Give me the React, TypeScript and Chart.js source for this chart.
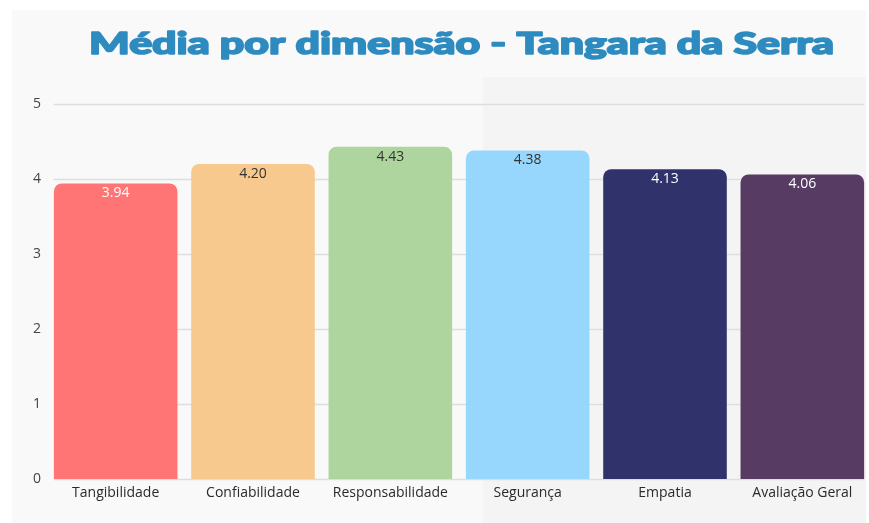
import React, { useEffect, useRef } from "react";
import { Chart, registerables } from "chart.js";

Chart.register(...registerables);

const TITLE = "Média por dimensão - Tangara da Serra";
const categories = ["Tangibilidade", "Confiabilidade", "Responsabilidade", "Segurança", "Empatia", "Avaliação Geral"];
const values = [3.94, 4.2, 4.43, 4.38, 4.13, 4.06];
const barColors = ["#ff7474", "#f7c98e", "#afd59e", "#97d7fd", "#30336b", "#573b63"];
const labelColors = ["#ffffff", "#333333", "#333333", "#333333", "#ffffff", "#ffffff"];
const yMin = 0;
const yMax = 5;
const yStep = 1;

const bgPlugin = {
  id: "customDecor",
  beforeDatasetsDraw(chart: any) {
    const ctx = chart.ctx;
    const meta = chart.getDatasetMeta(0);
    const first = meta.data[0];
    const last = meta.data[meta.data.length - 1];
    const x0 = first.x - first.width / 2;
    const x1 = last.x + last.width / 2;
    const yScale = chart.scales.y;
    ctx.save();
    ctx.strokeStyle = "#dedede";
    ctx.lineWidth = 1.5;
    yScale.ticks.forEach((t: any) => {
      const y = Math.round(yScale.getPixelForValue(t.value)) + 0.5;
      ctx.beginPath();
      ctx.moveTo(x0, y);
      ctx.lineTo(x1, y);
      ctx.stroke();
    });
    ctx.restore();
  },
  afterDatasetsDraw(chart: any) {
    const ctx = chart.ctx;
    const meta = chart.getDatasetMeta(0);
    ctx.save();
    ctx.font = "14px 'Open Sans'";
    ctx.textAlign = "center";
    ctx.textBaseline = "middle";
    meta.data.forEach((bar: any, i: number) => {
      ctx.fillStyle = labelColors[i];
      ctx.fillText(values[i].toFixed(2), bar.x, bar.y + 10);
    });
    ctx.restore();
  },
  afterDraw(chart: any) {
    const ctx = chart.ctx;
    ctx.save();
    ctx.font = "900 30px Lato";
    ctx.fillStyle = "#2e8bc0";
    ctx.strokeStyle = "#2e8bc0";
    ctx.lineWidth = 1.6;
    ctx.lineJoin = "round";
    ctx.textBaseline = "alphabetic";
    ctx.textAlign = "left";
    const w = ctx.measureText(TITLE).width;
    const target = 745;
    const sx = target / w;
    ctx.translate(89, 54);
    ctx.scale(sx, 1);
    ctx.fillText(TITLE, 0, 0);
    ctx.strokeText(TITLE, 0, 0);
    ctx.restore();
  },
};

export default function App() {
  const ref = useRef<HTMLCanvasElement | null>(null);
  useEffect(() => {
    if (!ref.current) return;
    const chart = new Chart(ref.current, {
      type: "bar",
      data: {
        labels: categories,
        datasets: [
          {
            data: values,
            backgroundColor: barColors,
            borderRadius: { topLeft: 8, topRight: 8, bottomLeft: 0, bottomRight: 0 },
            borderSkipped: false,
            categoryPercentage: 0.9,
            barPercentage: 1,
          },
        ],
      },
      options: {
        animation: false,
        responsive: false,
        maintainAspectRatio: false,
        layout: { padding: { top: 104, right: 9, left: 0, bottom: 0 } },
        plugins: { legend: { display: false }, tooltip: { enabled: false }, title: { display: false } },
        scales: {
          x: {
            grid: { display: false, drawTicks: false },
            border: { display: false },
            ticks: { color: "#2a2a2a", font: { family: "'Open Sans'", size: 14 }, padding: 6, maxRotation: 0 },
            afterFit: (s: any) => {
              s.height = 44;
            },
          },
          y: {
            min: yMin,
            max: yMax,
            grid: { display: false, drawTicks: false },
            border: { display: false },
            ticks: { stepSize: yStep, color: "#444444", font: { family: "'Open Sans'", size: 14 }, padding: 6 },
            afterFit: (s: any) => {
              s.width = 47;
            },
          },
        },
      },
      plugins: [bgPlugin],
    });
    return () => chart.destroy();
  }, []);

  return (
    <div style={{ position: "absolute", left: 0, top: 0, width: 869, height: 523, overflow: "hidden", background: "#ffffff" }}>
      <div style={{ position: "absolute", left: 12, top: 10, width: 854, height: 513, background: "#f9f9f9" }} />
      <div style={{ position: "absolute", left: 483, top: 77, width: 383, height: 446, background: "#f4f4f4" }} />
      <canvas ref={ref} width={880} height={523} style={{ position: "absolute", left: 0, top: 0, width: 880, height: 523 }} />
    </div>
  );
}
